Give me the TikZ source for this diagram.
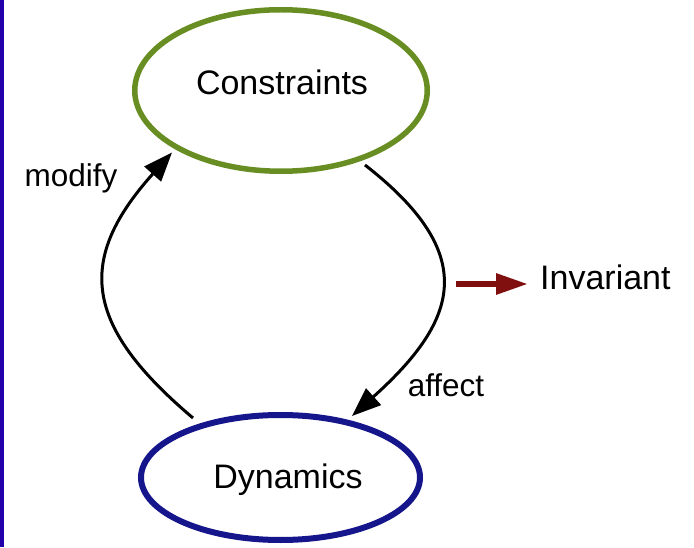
\documentclass[tikz,border=0pt]{standalone}
\usepackage{fontspec}
\setmainfont{Liberation Sans}
\usetikzlibrary{arrows.meta,shapes.geometric}
\definecolor{cgreen}{RGB}{104,142,35}
\definecolor{cnavy}{RGB}{22,22,140}
\definecolor{cred}{RGB}{128,16,16}
\definecolor{cborder}{RGB}{34,0,170}
\tikzset{
  ell/.style={ellipse, inner sep=0pt, fill=white},
  bigtxt/.style={inner sep=0pt, font=\fontsize{34}{40}\selectfont, anchor=base},
  smalltxt/.style={inner sep=0pt, font=\fontsize{31.5}{38}\selectfont, anchor=base},
  arr/.style={draw=black, line width=3pt, -{Triangle[length=29pt,width=22pt]}},
  invarr/.style={draw=cred, line width=6pt, -{Triangle[length=32pt,width=20pt]}}
}
\begin{document}
\begin{tikzpicture}[x=1pt,y=1pt]
\useasboundingbox (0,0) rectangle (694,547);
\fill[white] (0,0) rectangle (694,547);
\fill[cborder] (0,0) rectangle (3.5,547);
% ellipses
\node[ell, draw=cgreen, line width=5.5pt, minimum width=292.5pt, minimum height=161.5pt] (C) at (281,456.5) {};
\node[ell, draw=cnavy, line width=6pt, minimum width=279pt, minimum height=125pt] (D) at (280.5,69.5) {};
% texts
\node[bigtxt] (Ct) at (282,452) {Constraints};
\node[bigtxt] (Dt) at (288,59) {Dynamics};
\node[smalltxt] (mod) at (71,360) {modify};
\node[smalltxt] (aff) at (446,150) {affect};
\node[bigtxt, anchor=base west] (Inv) at (540,257) {Invariant};
% connectors
\draw[arr] ([shift={(-87.5,59.5)}]D.center)
  .. controls +(-110,93) and +(-96,-107) .. ([shift={(-109,-62)}]C.center);
\draw[arr] ([shift={(84,-74.5)}]C.center)
  .. controls +(114,-89) and +(108,97) .. ([shift={(71.5,61.5)}]D.center);
\coordinate (ia) at (456,263);
\draw[invarr, shorten >=12pt] (ia) -- (ia -| Inv.west);
\end{tikzpicture}
\end{document}
